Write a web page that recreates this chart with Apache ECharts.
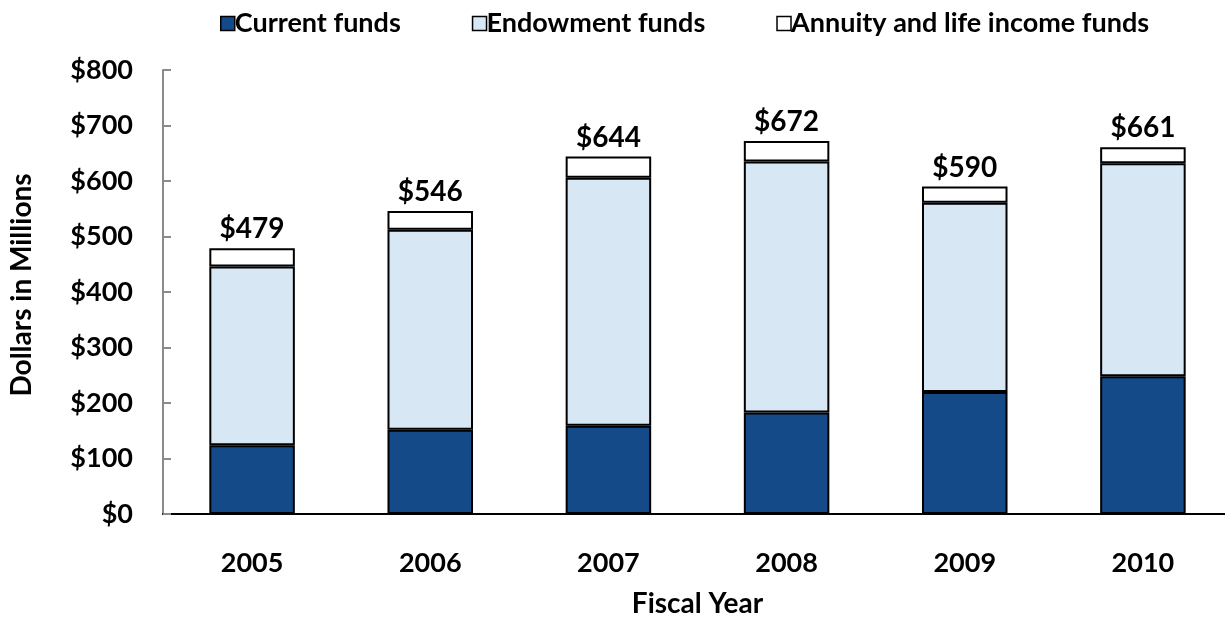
<!DOCTYPE html>
<html>
<head>
<meta charset="utf-8">
<script src="https://cdn.jsdelivr.net/npm/echarts@6/dist/echarts.min.js"></script>
<style>
  html, body { margin: 0; padding: 0; background: #fff; overflow: hidden; }
  #chart { width: 1225px; height: 617px; }
</style>
</head>
<body>
<div id="chart"></div>
<script>
// Fiscal years on the category axis
const years = ['2005', '2006', '2007', '2008', '2009', '2010'];
// Fund balances, $ millions
const currentFunds   = [124, 152, 159, 183, 220, 248];
const endowmentFunds = [322, 360, 447, 452, 341, 384];
const annuityFunds   = [33, 34, 38, 37, 29, 29];
// Y-axis ticks
const yTicks = [0, 100, 200, 300, 400, 500, 600, 700, 800];

const totals = years.map((_, i) => currentFunds[i] + endowmentFunds[i] + annuityFunds[i]);

const FONT = 'Lato';
const chart = echarts.init(document.getElementById('chart'), null, { renderer: 'canvas' });

const barBase = {
  type: 'bar',
  stack: 'funds',
  barWidth: '48%'
};

chart.setOption({
  animation: false,
  textStyle: { fontFamily: FONT, fontWeight: 'bold', color: '#000' },
  legend: {
    top: 5,
    left: 215,
    itemWidth: 14,
    itemHeight: 14,
    itemGap: 71,
    icon: 'rect',
    itemStyle: { borderColor: '#000', borderWidth: 1.5 },
    textStyle: { fontFamily: FONT, fontWeight: 'bold', fontSize: 27, color: '#000', padding: [0, 0, 0, -5] },
    data: ['Current funds', 'Endowment funds', 'Annuity and life income funds']
  },
  grid: { left: 163, right: -7, top: 70, bottom: 103, containLabel: false, outerBoundsMode: 'none' },
  xAxis: {
    type: 'category',
    data: years,
    name: 'Fiscal Year',
    nameLocation: 'middle',
    nameGap: 76,
    nameTextStyle: { fontFamily: FONT, fontWeight: 'bold', fontSize: 28, color: '#000' },
    axisLine: { lineStyle: { color: '#000', width: 2 } },
    axisTick: { show: false },
    axisLabel: { fontFamily: FONT, fontWeight: 'bold', fontSize: 27, color: '#000', margin: 36 }
  },
  yAxis: {
    type: 'value',
    min: yTicks[0],
    max: yTicks[yTicks.length - 1],
    interval: yTicks[1] - yTicks[0],
    name: 'Dollars in Millions',
    nameLocation: 'middle',
    nameGap: 127,
    nameRotate: 90,
    nameTextStyle: { fontFamily: FONT, fontWeight: 'bold', fontSize: 28, color: '#000', padding: [0, 0, 0, 14] },
    axisLine: { show: true, lineStyle: { color: '#8a8a8a', width: 2 } },
    axisTick: { show: true, inside: true, length: 8, lineStyle: { color: '#8a8a8a', width: 2 } },
    splitLine: { show: false },
    axisLabel: {
      fontFamily: FONT, fontWeight: 'bold', fontSize: 27, color: '#000', margin: 30,
      formatter: v => '$' + v
    }
  },
  series: [
    Object.assign({}, barBase, {
      name: 'Current funds',
      data: currentFunds,
      itemStyle: { color: '#134a87', borderColor: '#000', borderWidth: 2 }
    }),
    Object.assign({}, barBase, {
      name: 'Endowment funds',
      data: endowmentFunds,
      itemStyle: { color: '#d7e7f4', borderColor: '#000', borderWidth: 2 }
    }),
    Object.assign({}, barBase, {
      name: 'Annuity and life income funds',
      data: annuityFunds,
      itemStyle: { color: '#ffffff', borderColor: '#000', borderWidth: 2 },
      label: {
        show: true,
        position: 'top',
        distance: 5,
        fontFamily: FONT, fontWeight: 'bold', fontSize: 28, color: '#000',
        formatter: p => '$' + totals[p.dataIndex]
      }
    })
  ]
});
</script>
</body>
</html>
